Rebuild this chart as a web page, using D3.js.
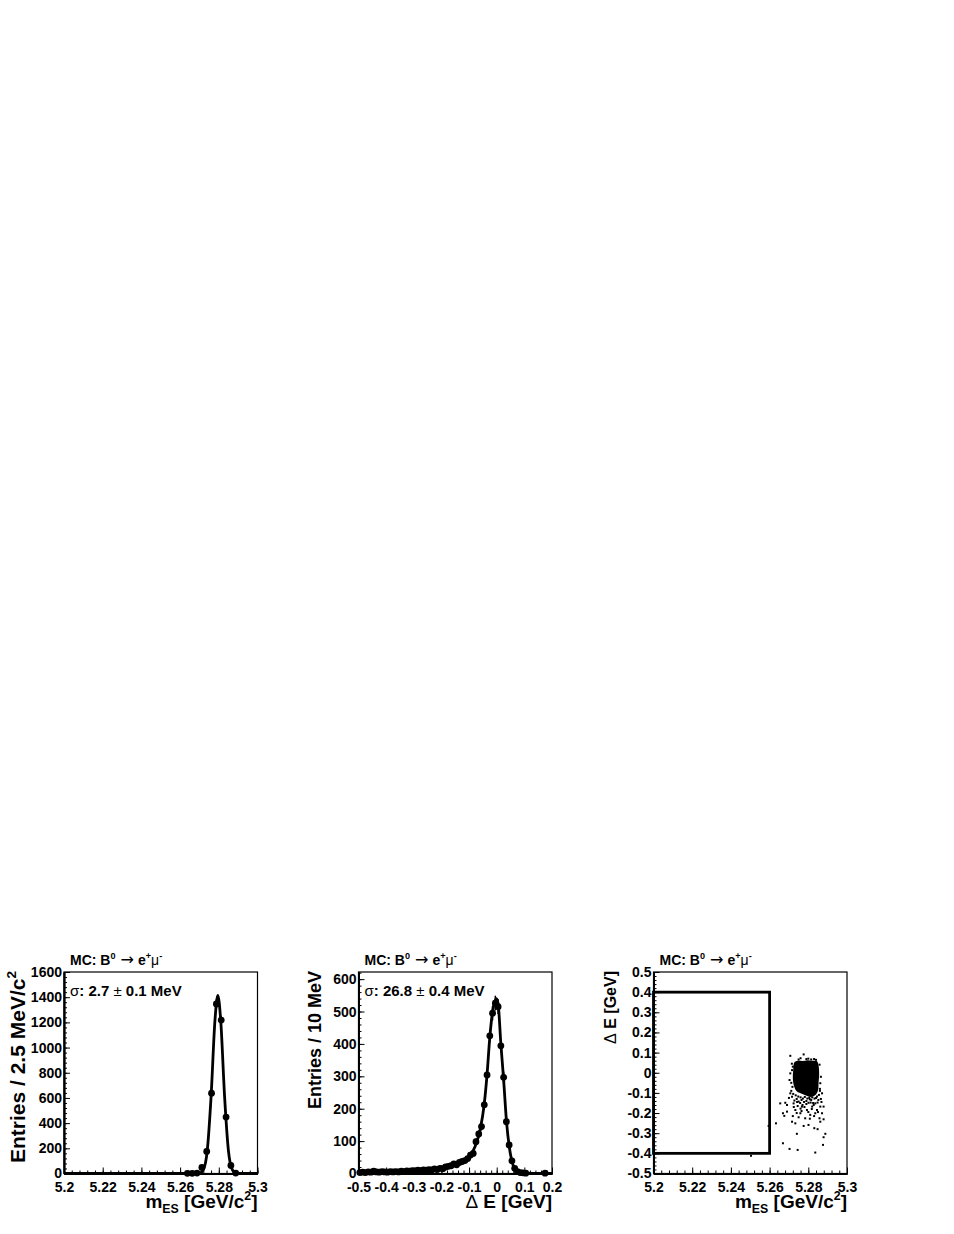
<!DOCTYPE html>
<html>
<head>
<meta charset="utf-8">
<script src="https://cdn.jsdelivr.net/npm/d3@7"></script>
<style>
  body { margin: 0; background: #fff; }
  text { font-family: 'Liberation Sans', Arial, Helvetica, sans-serif; font-weight: bold; fill: #000; }
</style>
</head>
<body>
<div id="chart"></div>
<script>
// --- mES histogram, 2.5 MeV bins (only the filled bins are drawn)
let mesBins = [5.26375, 5.26625, 5.26875, 5.27125, 5.27375, 5.27625, 5.27875, 5.28125, 5.28375, 5.28625, 5.28875]
let mesCounts = [1, 1, 3, 48, 175, 638, 1346, 1218, 448, 64, 3]
// gaussian fit
let mesFitX = [5.2, 5.266, 5.270, 5.272, 5.274, 5.276, 5.278, 5.2795, 5.281, 5.283, 5.285, 5.287, 5.289, 5.293, 5.3]
let mesFitY = [0, 0, 3, 30, 178, 609, 1213, 1415, 1213, 609, 178, 30, 3, 0, 0]

// --- Delta E histogram, 10 MeV bins
let deBins = [-0.495, -0.485, -0.475, -0.465, -0.455, -0.445, -0.435, -0.425, -0.415, -0.405,
  -0.395, -0.385, -0.375, -0.365, -0.355, -0.345, -0.335, -0.325, -0.315, -0.305,
  -0.295, -0.285, -0.275, -0.265, -0.255, -0.245, -0.235, -0.225, -0.215, -0.205,
  -0.195, -0.185, -0.175, -0.165, -0.155, -0.145, -0.135, -0.125, -0.115, -0.105,
  -0.095, -0.085, -0.075, -0.065, -0.055, -0.045, -0.035, -0.025, -0.015, -0.005,
  0.005, 0.015, 0.025, 0.035, 0.045, 0.055, 0.065, 0.075, 0.085, 0.095, 0.105, 0.175]
let deCounts = [3, 4, 3, 5, 4, 7, 5, 4, 6, 5,
  4, 6, 5, 6, 5, 7, 6, 8, 7, 9,
  8, 10, 9, 11, 10, 12, 11, 14, 12, 16,
  15, 20, 22, 24, 30, 27, 34, 37, 40, 46,
  57, 62, 98, 122, 145, 212, 304, 425, 495, 526,
  515, 394, 297, 160, 88, 39, 16, 6, 3, 2, 1, 1]
let deFitX = [-0.5, -0.4, -0.3, -0.2, -0.15, -0.12, -0.1, -0.08, -0.06, -0.045, -0.035, -0.025, -0.015, -0.005, -0.001,
  0.005, 0.015, 0.025, 0.035, 0.045, 0.055, 0.065, 0.075, 0.09, 0.2]
let deFitY = [3, 5, 8, 15, 25, 35, 48, 80, 135, 215, 305, 420, 500, 535, 540,
  525, 400, 290, 165, 85, 38, 14, 5, 1, 0]

// --- 2D: mES vs Delta E
// dense core outline
let coreM = [5.2728, 5.2745, 5.2770, 5.2795, 5.2820, 5.2845, 5.2854, 5.2856, 5.2853, 5.2850, 5.2835, 5.2810,
  5.2785, 5.2760, 5.2740, 5.2727, 5.2720, 5.2722]
let coreDE = [0.052, 0.060, 0.058, 0.062, 0.060, 0.057, 0.030, -0.010, -0.050, -0.088, -0.112, -0.120,
  -0.112, -0.102, -0.092, -0.068, -0.030, 0.012]
// single events outside the core
let scatM = [5.2655, 5.2681, 5.2690, 5.2676, 5.2633, 5.2595, 5.2716, 5.2733, 5.2750, 5.2776, 5.2801, 5.2831,
  5.2848, 5.2862, 5.2879, 5.2888, 5.2879, 5.2876, 5.2741, 5.2669, 5.2703, 5.2745, 5.2836, 5.2504,
  5.2862, 5.2879, 5.2871, 5.2845, 5.2820, 5.2793, 5.2767, 5.2733, 5.2759, 5.2810, 5.2836, 5.2784,
  5.2858, 5.2724, 5.2750, 5.2801, 5.2836, 5.2716, 5.2707, 5.2703, 5.2707, 5.2871, 5.2862, 5.2707,
  5.2776, 5.2669, 5.2716, 5.2740, 5.2765, 5.2790, 5.2815, 5.2840, 5.2855, 5.2860, 5.2858, 5.2720,
  5.2718, 5.2800, 5.2830, 5.2750, 5.2700, 5.2690, 5.2770, 5.2805, 5.2825, 5.2745,
  5.2712, 5.2722, 5.2735, 5.2748, 5.2760, 5.2772, 5.2782, 5.2795, 5.2808, 5.2820, 5.2832, 5.2845,
  5.2852, 5.2728, 5.2742, 5.2758, 5.2778, 5.2790, 5.2812, 5.2828, 5.2848, 5.2865, 5.2868, 5.2725,
  5.2760, 5.2780, 5.2800, 5.2818, 5.2850, 5.2765, 5.2740, 5.2830, 5.2808, 5.2720, 5.2860, 5.2865,
  5.2715, 5.2712, 5.2760, 5.2790, 5.2815, 5.2840]
let scatDE = [-0.152, -0.149, -0.193, -0.214, -0.251, -0.264, -0.243, -0.251, -0.221, -0.264, -0.259, -0.275,
  -0.280, -0.243, -0.231, -0.303, -0.320, -0.358, -0.303, -0.350, -0.378, -0.383, -0.396, -0.412,
  -0.168, -0.168, -0.201, -0.185, -0.168, -0.185, -0.168, -0.185, -0.201, -0.209, -0.201, -0.226,
  -0.226, -0.152, -0.143, -0.149, -0.152, -0.119, -0.102, -0.036, -0.003, -0.102, -0.052, 0.084,
  0.091, -0.201, 0.013, -0.130, -0.135, -0.140, -0.135, -0.125, -0.110, -0.080, 0.040, 0.030,
  -0.070, 0.070, 0.068, 0.066, -0.125, -0.160, -0.160, -0.125, -0.150, -0.165,
  -0.090, -0.105, -0.112, -0.118, -0.122, -0.128, -0.120, -0.128, -0.132, -0.122, -0.128, -0.118,
  -0.135, -0.138, -0.145, -0.150, -0.145, -0.155, -0.148, -0.160, -0.148, -0.130, -0.145, -0.170,
  -0.178, -0.170, -0.195, -0.180, -0.195, -0.190, -0.200, -0.215, -0.228, -0.215, -0.090, -0.020,
  0.045, -0.050, 0.072, 0.068, 0.066, 0.064]
// signal box
let boxM = [5.2, 5.26]
let boxDE = [-0.4, 0.4]

// --- ticks
let mesMajor = [5.2, 5.22, 5.24, 5.26, 5.28, 5.3]
let mesMinor = d3.range(5.2, 5.3001, 0.004)
let deMajor = [-0.5, -0.4, -0.3, -0.2, -0.1, 0, 0.1, 0.2]
let deMinor = d3.range(-0.5, 0.2001, 0.02)
let cnt1Major = [0, 200, 400, 600, 800, 1000, 1200, 1400, 1600]
let cnt1Minor = d3.range(0, 1601, 40)
let cnt2Major = [0, 100, 200, 300, 400, 500, 600]
let cnt2Minor = d3.range(0, 621, 20)
let de2Major = [-0.5, -0.4, -0.3, -0.2, -0.1, 0, 0.1, 0.2, 0.3, 0.4, 0.5]
let de2Minor = d3.range(-0.5, 0.5001, 0.02)

let W = 954, H = 1234
let frameTop = 972
let frameW = 193.5, frameH = 201.5
let panelLeft = [64, 358.5, 653.5]

let fmt = d => String(+d.toFixed(3))

let svg = d3.select('#chart')
  .append('svg')
  .attr('width', W)
  .attr('height', H)

// text with super/subscripts
function richText(sel, parts, size) {
  let shift = 0
  parts.forEach(p => {
    let target = p.sup ? -size * 0.42 : p.sub ? size * 0.3 : 0
    let ts = sel.append('tspan').text(p.t).attr('dy', target - shift)
    if (p.sup || p.sub) ts.attr('font-size', size * 0.65)
    if (p.normal) ts.attr('font-weight', 'normal')
    if (p.arrow) ts.attr('font-family', "'DejaVu Sans', sans-serif").attr('font-size', size * 1.15)
    shift = target
  })
}

let titleParts = [{ t: 'MC: B' }, { t: '0', sup: true }, { t: ' \u2192', normal: true, arrow: true }, { t: ' e' },
  { t: '+', sup: true }, { t: '\u03bc', normal: true }, { t: '-', sup: true }]
let mesTitle = [{ t: 'm' }, { t: 'ES', sub: true }, { t: ' [GeV/c' }, { t: '2', sup: true }, { t: ']' }]
let deTitle = [{ t: '\u0394', normal: true }, { t: ' E [GeV]' }]

function panel(i, x, y, xMajor, xMinor, yMajor, yMinor) {
  let g = svg.append('g')
    .attr('transform', `translate(${panelLeft[i]},${frameTop})`)

  g.append('rect')
    .attr('width', frameW)
    .attr('height', frameH)
    .attr('fill', 'none')
    .attr('stroke', '#000')
    .attr('stroke-width', 1.2)

  let xAx = g.append('g').attr('transform', `translate(0,${frameH})`)
  xAx.append('g')
    .call(d3.axisBottom(x).tickValues(xMinor).tickSize(-3).tickSizeOuter(0).tickFormat(''))
  xAx.append('g')
    .call(d3.axisBottom(x).tickValues(xMajor).tickSize(-6).tickSizeOuter(0).tickPadding(9).tickFormat(fmt))

  let yAx = g.append('g')
  yAx.append('g')
    .call(d3.axisLeft(y).tickValues(yMinor).tickSize(-3).tickSizeOuter(0).tickFormat(''))
  yAx.append('g')
    .call(d3.axisLeft(y).tickValues(yMajor).tickSize(-6).tickSizeOuter(0).tickPadding(2).tickFormat(fmt))

  g.selectAll('.domain').attr('stroke', '#000').attr('stroke-width', 1.8)
  g.selectAll('.tick line').attr('stroke', '#000').attr('stroke-width', 1)
  g.selectAll('.tick text')
    .attr('font-size', 14)
    .attr('font-family', "'Liberation Sans', Arial, sans-serif")
    .attr('font-weight', 'bold')

  g.append('text')
    .attr('x', 6)
    .attr('y', -7)
    .attr('font-size', 14)
    .call(t => richText(t, titleParts, 14))

  return g
}

// ---------- panel 1: mES
let x1 = d3.scaleLinear().domain([5.2, 5.3]).range([0, frameW])
let y1 = d3.scaleLinear().domain([0, 1600]).range([frameH, 0])
let g1 = panel(0, x1, y1, mesMajor, mesMinor, cnt1Major, cnt1Minor)

g1.selectAll('.err')
  .data(mesBins)
  .enter()
  .append('line')
  .attr('x1', d => x1(d))
  .attr('x2', d => x1(d))
  .attr('y1', (d, i) => y1(mesCounts[i] + Math.sqrt(mesCounts[i])))
  .attr('y2', (d, i) => y1(Math.max(0, mesCounts[i] - Math.sqrt(mesCounts[i]))))
  .attr('stroke', '#000')
  .attr('stroke-width', 1.5)

g1.append('path')
  .datum(mesFitX.map((d, i) => [d, mesFitY[i]]))
  .attr('d', d3.line().x(d => x1(d[0])).y(d => y1(d[1])).curve(d3.curveMonotoneX))
  .attr('fill', 'none')
  .attr('stroke', '#000')
  .attr('stroke-width', 2.8)

g1.selectAll('.pt')
  .data(mesBins)
  .enter()
  .append('circle')
  .attr('cx', d => x1(d))
  .attr('cy', (d, i) => y1(mesCounts[i]))
  .attr('r', 3.4)
  .attr('fill', '#000')

g1.append('text')
  .attr('x', 6)
  .attr('y', 24)
  .attr('font-size', 15)
  .call(t => richText(t, [{ t: '\u03c3', normal: true }, { t: ': 2.7 ' }, { t: '\u00b1', normal: true }, { t: ' 0.1 MeV' }], 15))

g1.append('text')
  .attr('x', frameW)
  .attr('y', frameH + 34)
  .attr('text-anchor', 'end')
  .attr('font-size', 19)
  .call(t => richText(t, mesTitle, 19))

g1.append('text')
  .attr('transform', `translate(${-39},-1) rotate(-90)`)
  .attr('text-anchor', 'end')
  .attr('font-size', 21)
  .call(t => richText(t, [{ t: 'Entries / 2.5 MeV/c' }, { t: '2', sup: true }], 21))

// ---------- panel 2: Delta E
let x2 = d3.scaleLinear().domain([-0.5, 0.2]).range([0, frameW])
let y2 = d3.scaleLinear().domain([0, 622]).range([frameH, 0])
let g2 = panel(1, x2, y2, deMajor, deMinor, cnt2Major, cnt2Minor)

g2.selectAll('.err')
  .data(deBins)
  .enter()
  .append('line')
  .attr('x1', d => x2(d))
  .attr('x2', d => x2(d))
  .attr('y1', (d, i) => y2(deCounts[i] + Math.sqrt(deCounts[i])))
  .attr('y2', (d, i) => y2(Math.max(0, deCounts[i] - Math.sqrt(deCounts[i]))))
  .attr('stroke', '#000')
  .attr('stroke-width', 1.5)

g2.append('path')
  .datum(deFitX.map((d, i) => [d, deFitY[i]]))
  .attr('d', d3.line().x(d => x2(d[0])).y(d => y2(d[1])).curve(d3.curveMonotoneX))
  .attr('fill', 'none')
  .attr('stroke', '#000')
  .attr('stroke-width', 2.8)

g2.selectAll('.pt')
  .data(deBins)
  .enter()
  .append('circle')
  .attr('cx', d => x2(d))
  .attr('cy', (d, i) => y2(deCounts[i]))
  .attr('r', 3.4)
  .attr('fill', '#000')

g2.append('text')
  .attr('x', 6)
  .attr('y', 24)
  .attr('font-size', 15)
  .call(t => richText(t, [{ t: '\u03c3', normal: true }, { t: ': 26.8 ' }, { t: '\u00b1', normal: true }, { t: ' 0.4 MeV' }], 15))

g2.append('text')
  .attr('x', frameW)
  .attr('y', frameH + 34)
  .attr('text-anchor', 'end')
  .attr('font-size', 19)
  .call(t => richText(t, deTitle, 19))

g2.append('text')
  .attr('transform', `translate(${-38},-1) rotate(-90)`)
  .attr('text-anchor', 'end')
  .attr('font-size', 18)
  .text('Entries / 10 MeV')

// ---------- panel 3: mES vs Delta E
let x3 = d3.scaleLinear().domain([5.2, 5.3]).range([0, frameW])
let y3 = d3.scaleLinear().domain([-0.5, 0.5]).range([frameH, 0])
let g3 = panel(2, x3, y3, mesMajor, mesMinor, de2Major, de2Minor)

g3.append('rect')
  .attr('x', x3(boxM[0]))
  .attr('y', y3(boxDE[1]))
  .attr('width', x3(boxM[1]) - x3(boxM[0]))
  .attr('height', y3(boxDE[0]) - y3(boxDE[1]))
  .attr('fill', 'none')
  .attr('stroke', '#000')
  .attr('stroke-width', 2.8)

g3.append('path')
  .datum(coreM.map((d, i) => [d, coreDE[i]]))
  .attr('d', d3.line().x(d => x3(d[0])).y(d => y3(d[1])).curve(d3.curveCatmullRomClosed))
  .attr('fill', '#000')

g3.selectAll('.ev')
  .data(scatM)
  .enter()
  .append('rect')
  .attr('x', d => x3(d) - 1)
  .attr('y', (d, i) => y3(scatDE[i]) - 1)
  .attr('width', 2)
  .attr('height', 2)
  .attr('fill', '#000')

g3.append('text')
  .attr('x', frameW)
  .attr('y', frameH + 34)
  .attr('text-anchor', 'end')
  .attr('font-size', 19)
  .call(t => richText(t, mesTitle, 19))

g3.append('text')
  .attr('transform', `translate(${-38},-1) rotate(-90)`)
  .attr('text-anchor', 'end')
  .attr('font-size', 16)
  .call(t => richText(t, deTitle, 16))
</script>
</body>
</html>
